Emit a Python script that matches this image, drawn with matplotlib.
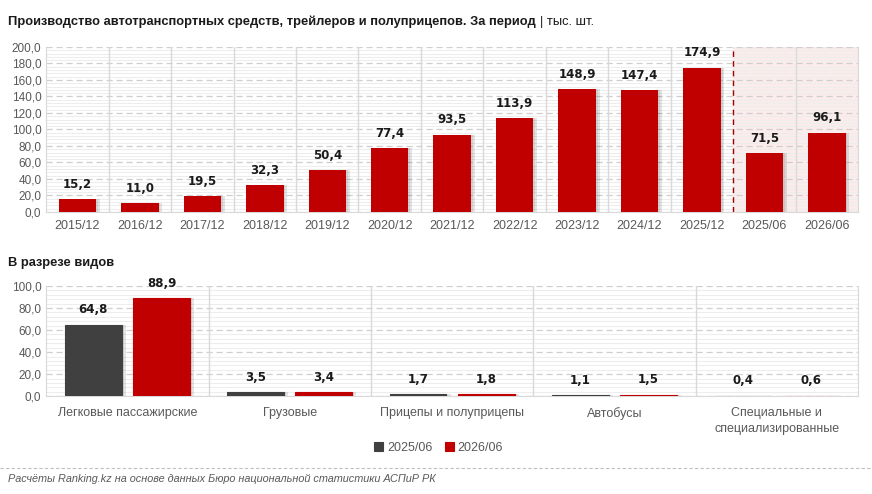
import numpy as np
import matplotlib.pyplot as plt
from matplotlib.ticker import MultipleLocator, FuncFormatter

plt.rcParams['font.family'] = ['Liberation Sans', 'DejaVu Sans']

# данные
periods = ['2015/12', '2016/12', '2017/12', '2018/12', '2019/12', '2020/12', '2021/12',
           '2022/12', '2023/12', '2024/12', '2025/12', '2025/06', '2026/06']
totals = [15.2, 11.0, 19.5, 32.3, 50.4, 77.4, 93.5, 113.9, 148.9, 147.4, 174.9, 71.5, 96.1]

kinds = ['Легковые пассажирские', 'Грузовые', 'Прицепы и полуприцепы', 'Автобусы',
         'Специальные и\nспециализированные']
h1_2025 = [64.8, 3.5, 1.7, 1.1, 0.4]
h1_2026 = [88.9, 3.4, 1.8, 1.5, 0.6]
series_names = ['2025/06', '2026/06']

RED = '#C00000'
DARK = '#404040'
GRAY = '#595959'
GRID = '#D9D9D9'

fmt = FuncFormatter(lambda v, p: f'{v:.1f}'.replace('.', ','))


def style_axes(ax, ymax, major):
    ax.set_ylim(0, ymax)
    ax.yaxis.set_major_locator(MultipleLocator(major))
    ax.yaxis.set_minor_locator(MultipleLocator(major / 5))
    ax.yaxis.set_major_formatter(fmt)
    ax.grid(axis='y', which='major', color='#CFCFCF', linestyle=(0, (5, 3)), linewidth=0.9)
    ax.grid(axis='y', which='minor', color='#EDEDED', linestyle='-', linewidth=0.8)
    ax.set_axisbelow(True)
    ax.tick_params(axis='both', which='both', length=0, colors=GRAY, labelsize=8.5)
    ax.tick_params(axis='x', labelsize=9, pad=6)
    for s in ['left', 'bottom', 'right']:
        ax.spines[s].set_color(GRID)
    ax.spines['top'].set_visible(False)


def shadow_bars(ax, x, h, w, dx):
    ax.bar(x + dx, h, w, color='#000000', alpha=0.10, zorder=2)
    ax.bar(x + dx * 0.5, h, w, color='#000000', alpha=0.08, zorder=2)


def value_labels(ax, xs, vals):
    for xi, v in zip(xs, vals):
        ax.annotate(f'{v:.1f}'.replace('.', ','), (xi, v), xytext=(0, 6), textcoords='offset points',
                    ha='center', va='bottom', fontsize=8.5, fontweight='bold', color='#1A1A1A',
                    family='DejaVu Sans')


fig = plt.figure(figsize=(8.72, 4.94), dpi=100)

# верхний график
ax1 = fig.add_axes([0.053, 0.571, 0.931, 0.334])
n = len(periods)
x = np.arange(n)
ax1.set_xlim(-0.5, n - 0.5)
style_axes(ax1, 200, 20)
ax1.axvspan(10.5, n - 0.5, color='#FBE3E3', alpha=0.65, zorder=0)
for b in np.arange(0.5, n - 0.5, 1):
    if b == 10.5:
        ax1.axvline(b, color='#A00000', linestyle=(0, (4, 3)), linewidth=1, zorder=1)
    else:
        ax1.axvline(b, color=GRID, linewidth=1, zorder=1)
shadow_bars(ax1, x, totals, 0.6, 0.06)
ax1.bar(x, totals, 0.6, color=RED, zorder=3)
value_labels(ax1, x, totals)
ax1.set_xticks(x)
ax1.set_xticklabels(periods)

# нижний график
ax2 = fig.add_axes([0.053, 0.198, 0.931, 0.223])
m = len(kinds)
g = np.arange(m)
ax2.set_xlim(-0.5, m - 0.5)
style_axes(ax2, 100, 20)
for b in np.arange(0.5, m - 0.5, 1):
    ax2.axvline(b, color=GRID, linewidth=1, zorder=1)
off = 0.21
w = 0.35
shadow_bars(ax2, g - off, h1_2025, w, 0.025)
shadow_bars(ax2, g + off, h1_2026, w, 0.025)
b1 = ax2.bar(g - off, h1_2025, w, color=DARK, edgecolor=DARK, linewidth=0.8, zorder=3,
             label=series_names[0])
b2 = ax2.bar(g + off, h1_2026, w, color=RED, edgecolor=RED, linewidth=0.8, zorder=3,
             label=series_names[1])
value_labels(ax2, g - off, h1_2025)
value_labels(ax2, g + off, h1_2026)
ax2.set_xticks(g)
ax2.set_xticklabels(kinds, linespacing=1.45)
ax2.tick_params(axis='x', pad=8)

leg = fig.legend(handles=[b1, b2], loc='center', bbox_to_anchor=(0.503, 0.093), ncol=2,
                 frameon=False, fontsize=9, handlelength=0.7, handleheight=0.7,
                 handletextpad=0.3, columnspacing=1.0)
for t in leg.get_texts():
    t.set_color(GRAY)

# заголовки
t1 = fig.text(0.009, 0.955, 'Производство автотранспортных средств, трейлеров и полуприцепов. За период',
              fontsize=9.3, fontweight='bold', color='#1A1A1A', va='center')
fig.canvas.draw()
bb = t1.get_window_extent().transformed(fig.transFigure.inverted())
fig.text(bb.x1 + 0.005, 0.955, '| тыс. шт.', fontsize=9.3, color='#1A1A1A', va='center')
fig.text(0.009, 0.467, 'В разрезе видов', fontsize=9.3, fontweight='bold', color='#1A1A1A', va='center')

fig.add_artist(plt.Line2D([0, 1], [0.053, 0.053], transform=fig.transFigure,
                          color='#BFBFBF', linestyle=(0, (3, 2)), linewidth=0.8))
fig.text(0.009, 0.031, 'Расчёты Ranking.kz на основе данных Бюро национальной статистики АСПиР РК',
         fontsize=7.8, style='italic', color=GRAY, va='center')

fig.savefig('out.png', dpi=100)
